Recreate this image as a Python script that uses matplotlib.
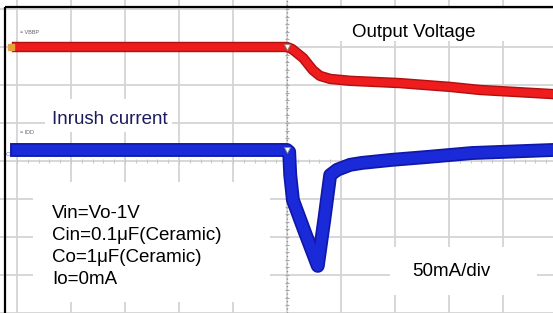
import matplotlib.pyplot as plt
import numpy as np
from matplotlib.patches import Rectangle

plt.rcParams['font.family'] = ['Liberation Sans', 'DejaVu Sans']

# scope screen: 10 x 8 divisions, trigger at 5 div
# output voltage trace (CH1), in divisions
vout_t = [0.0, 5.0, 5.09, 5.30, 5.48, 5.61, 5.80, 6.17, 7.09, 8.02, 8.57, 9.93]
vout_v = [7.0, 7.0, 6.95, 6.71, 6.39, 6.24, 6.16, 6.11, 6.05, 5.95, 5.87, 5.76]

# inrush current trace (CH2), in divisions
iin_t = [0.0, 5.0, 5.04, 5.06, 5.11, 5.33, 5.57, 5.69, 5.80, 5.93, 6.17, 6.39, 6.94, 7.63, 8.43, 9.93]
iin_v = [4.29, 4.29, 4.24, 3.63, 2.97, 2.13, 1.24, 2.45, 3.63, 3.77, 3.90, 3.95, 4.03, 4.11, 4.21, 4.29]

notes = ["Vin=Vo-1V", "Cin=0.1\u03bcF(Ceramic)", "Co=1\u03bcF(Ceramic)", "Io=0mA"]

# pixel -> division helpers for the layout
X0, DX, Y0, DY = 17, 54.0, 313, 38.0
def px(x):
    return (x - X0) / DX
def py(y):
    return (Y0 - y) / DY

fig = plt.figure(figsize=(5.53, 3.13), dpi=100)
fig.patch.set_facecolor('white')
ax = fig.add_axes([0, 0, 1, 1])
ax.set_xlim(px(0), px(553))
ax.set_ylim(py(313), py(0))
ax.axis('off')

# graticule
for i in range(10):
    ax.axvline(i, color='#d4d4d4', lw=1.3, zorder=1)
for j in range(9):
    ax.axhline(j, color='#d4d4d4', lw=1.3, zorder=1)
ax.axvline(5, color='#8c8c8c', lw=0.9, ls=(0, (1, 2)), zorder=2.5)
ticks = np.arange(0, 8.01, 0.2)
ax.plot(np.full(len(ticks), 5), ticks, ls='none', marker='_', ms=3.5, mew=0.8, color='#a8a8a8', zorder=2.5)
ticks = np.arange(0, 10.01, 0.2)
ax.plot(ticks, np.full(len(ticks), 4), ls='none', marker='|', ms=3, mew=0.8, color='#c8c8c8', zorder=1.5)

# white label boxes
def box(x1, y1, x2, y2):
    ax.add_patch(Rectangle((px(x1), py(y2)), px(x2) - px(x1), py(y1) - py(y2),
                           facecolor='white', edgecolor='none', zorder=2))
box(289, 9, 553, 41)
box(45, 99, 172, 132)
box(33, 182, 270, 302)
box(390, 247, 537, 295)

# traces
ax.plot(vout_t, vout_v, color='#b01010', lw=7.5, solid_joinstyle='round', zorder=3)
ax.plot(vout_t, vout_v, color='#ee1c1c', lw=5.5, solid_joinstyle='round', zorder=3.1)
ax.plot(iin_t, iin_v, color='#1018a8', lw=10, solid_joinstyle='round', zorder=3)
ax.plot(iin_t, iin_v, color='#1a2ad8', lw=7.5, solid_joinstyle='round', zorder=3.1)

# trigger markers
ax.plot([5], [py(47)], marker='v', ms=4, color='white', mec='#888888', mew=0.6, zorder=4)
ax.plot([5], [py(150)], marker='v', ms=4, color='white', mec='#888888', mew=0.6, zorder=4)

# channel markers and names
ax.plot([px(11)], [py(47)], marker='s', ms=4, color='#e8a040', zorder=4)
ax.text(px(8), py(155), 'C', fontsize=4.5, color='#6a78b8', va='center', ha='center', zorder=4)
ax.text(px(20), py(33), '\u2248 VBBP', fontsize=4, color='#606070', va='center', zorder=4)
ax.text(px(20), py(133), '\u2248 IDD', fontsize=4, color='#606070', va='center', zorder=4)

# frame
ax.plot([px(5), px(5)], [py(313), py(7)], color='black', lw=1.6, zorder=5, solid_capstyle='butt')
ax.plot([px(5), px(553)], [py(7), py(7)], color='black', lw=1.6, zorder=5, solid_capstyle='butt')

# annotations
fs = 13.5
ax.text(px(352), py(37), 'Output Voltage', fontsize=fs, color='black', va='baseline', zorder=6)
ax.text(px(52), py(124), 'Inrush current', fontsize=fs, color='#1c1c5c', va='baseline', zorder=6)
for k, s in enumerate(notes):
    ax.text(px(52), py(218 + 22 * k), s, fontsize=fs, color='black', va='baseline', zorder=6)
ax.text(px(412), py(276), '50mA/div', fontsize=fs, color='black', va='baseline', zorder=6)

plt.savefig('out.png', dpi=100, facecolor='white')
